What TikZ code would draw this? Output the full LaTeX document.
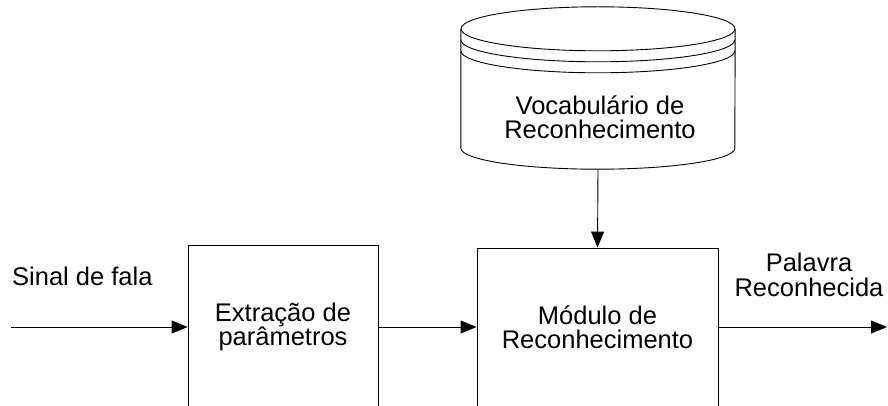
\documentclass[tikz,border=0pt]{standalone}
\usepackage{fontspec}
\setmainfont{Liberation Sans}
\usetikzlibrary{positioning, arrows.meta}
\tikzset{
  bloco/.style={rectangle, draw, line width=0.9pt, align=center, inner sep=0pt},
  seta/.style={-{Triangle[length=16pt, width=13pt]}, line width=0.9pt},
  rotulo/.style={align=center, inner sep=0pt},
}

\begin{document}
\begin{tikzpicture}[x=1pt, y=1pt, font=\fontsize{25.5}{24.5}\selectfont]
\useasboundingbox (0,0) rectangle (888,405);
\clip (0,0) rectangle (888,405);

% Processing blocks (they run past the lower edge)
\node[bloco, minimum width=190pt, minimum height=164pt] (extracao) at (283,78) {Extração de\\parâmetros};
\node[bloco, minimum width=241pt, minimum height=158pt] (modulo) at (597.5,78) {Módulo de\\Reconhecimento};

% Vocabulary cylinder
\node[minimum width=274pt, minimum height=119pt, inner sep=0pt] (vocab) at (598,316.5) {};
\draw[line width=0.9pt] (vocab.north) ellipse [x radius=137pt, y radius=22pt];
\foreach \anel in {11,22} {
    % Rings under the lid
    \draw[line width=0.9pt] ([yshift=-\anel pt]vocab.north west) arc[start angle=180, end angle=360, x radius=137pt, y radius=22pt];
}
\draw[line width=0.9pt] (vocab.north west) -- (vocab.south west)
    arc[start angle=180, end angle=360, x radius=137pt, y radius=21pt] -- (vocab.north east);
\node[rotulo] (vocabtxt) at (600,288) {Vocabulário de\\Reconhecimento};
\coordinate (vocabbase) at ([yshift=-21pt]vocab.south);

% Connectors
\coordinate (entrada) at (11,78);
\coordinate (saida) at (887,78);
\draw[seta] (entrada) -- (extracao.west);
\draw[seta] (extracao.east) -- (modulo.west);
\draw[seta] (modulo.east) -- (saida);
\draw[seta] (vocabbase) -- (modulo.north);

% Labels
\node[anchor=base west, inner sep=0pt] (sinal) at (12,120) {Sinal de fala};
\node[rotulo] (palavra) at (809,130) {Palavra\\Reconhecida};
\end{tikzpicture}
\end{document}
